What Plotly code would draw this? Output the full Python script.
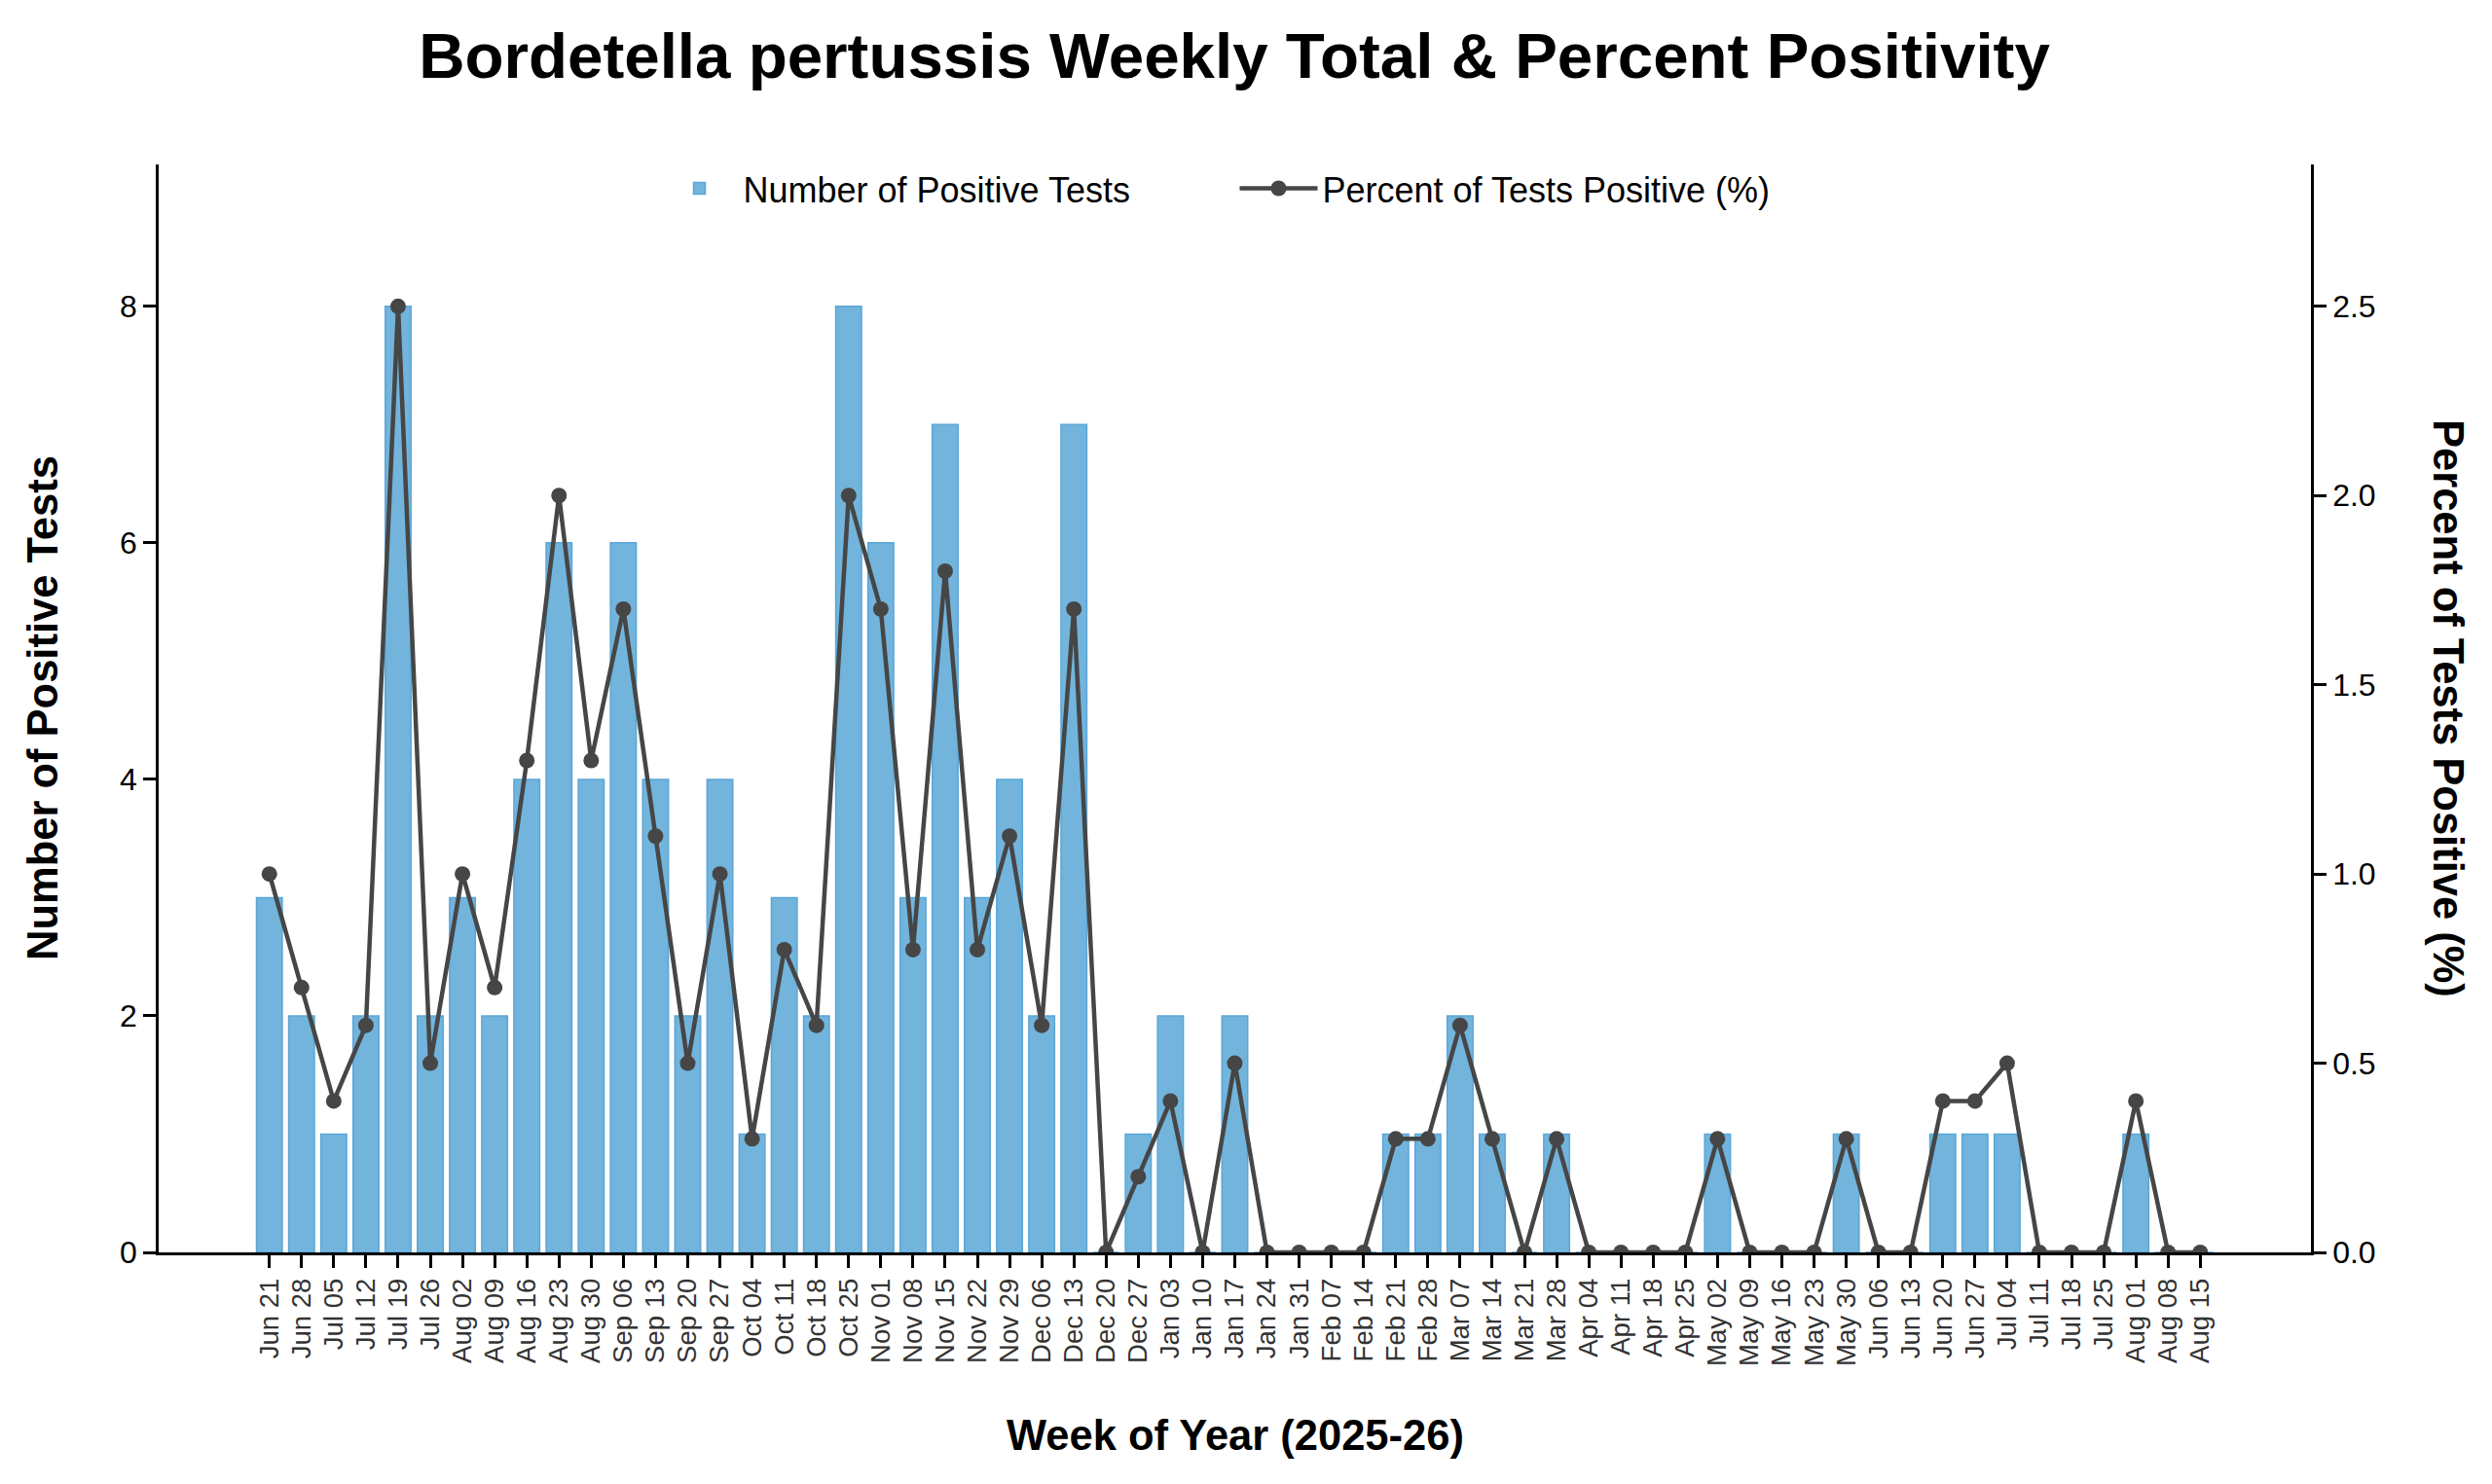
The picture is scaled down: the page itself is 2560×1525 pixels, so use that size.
import plotly.graph_objects as go

# weekly data
weeks = [
    "Jun 21", "Jun 28", "Jul 05", "Jul 12", "Jul 19", "Jul 26", "Aug 02", "Aug 09",
    "Aug 16", "Aug 23", "Aug 30", "Sep 06", "Sep 13", "Sep 20", "Sep 27", "Oct 04",
    "Oct 11", "Oct 18", "Oct 25", "Nov 01", "Nov 08", "Nov 15", "Nov 22", "Nov 29",
    "Dec 06", "Dec 13", "Dec 20", "Dec 27", "Jan 03", "Jan 10", "Jan 17", "Jan 24",
    "Jan 31", "Feb 07", "Feb 14", "Feb 21", "Feb 28", "Mar 07", "Mar 14", "Mar 21",
    "Mar 28", "Apr 04", "Apr 11", "Apr 18", "Apr 25", "May 02", "May 09", "May 16",
    "May 23", "May 30", "Jun 06", "Jun 13", "Jun 20", "Jun 27", "Jul 04", "Jul 11",
    "Jul 18", "Jul 25", "Aug 01", "Aug 08", "Aug 15",
]
positives = [
    3, 2, 1, 2, 8, 2, 3, 2, 4, 6, 4, 6, 4, 2, 4, 1,
    3, 2, 8, 6, 3, 7, 3, 4, 2, 7, 0, 1, 2, 0, 2, 0,
    0, 0, 0, 1, 1, 2, 1, 0, 1, 0, 0, 0, 0, 1, 0, 0,
    0, 1, 0, 0, 1, 1, 1, 0, 0, 0, 1, 0, 0,
]
pct_positive = [
    1.0, 0.7, 0.4, 0.6, 2.5, 0.5, 1.0, 0.7, 1.3, 2.0, 1.3, 1.7, 1.1, 0.5, 1.0, 0.3,
    0.8, 0.6, 2.0, 1.7, 0.8, 1.8, 0.8, 1.1, 0.6, 1.7, 0.0, 0.2, 0.4, 0.0, 0.5, 0.0,
    0.0, 0.0, 0.0, 0.3, 0.3, 0.6, 0.3, 0.0, 0.3, 0.0, 0.0, 0.0, 0.0, 0.3, 0.0, 0.0,
    0.0, 0.3, 0.0, 0.0, 0.4, 0.4, 0.5, 0.0, 0.0, 0.0, 0.4, 0.0, 0.0,
]
left_ticks = [0, 2, 4, 6, 8]
right_ticks = [0.0, 0.5, 1.0, 1.5, 2.0, 2.5]

FONT = "Liberation Sans, Arial, sans-serif"
BAR = "#72b4dc"
LINE = "#464646"

# page body adds an 8px offset, so the figure is a bit smaller than the window
W, H = 2552, 1517
ML, MR, MT, MB = 155, 186, 161, 238
PW, PH = W - ML - MR, H - MT - MB

fig = go.Figure()
fig.add_trace(go.Bar(
    x=weeks, y=positives, name="Number of Positive Tests",
    marker=dict(color=BAR, line=dict(width=1.5, color="#5aa6d8")),
))
fig.add_trace(go.Scatter(
    x=weeks, y=pct_positive, name="Percent of Tests Positive (%)", yaxis="y2",
    mode="lines+markers",
    line=dict(color=LINE, width=4.5),
    marker=dict(color=LINE, size=16),
))

axis_common = dict(
    showgrid=False, zeroline=False, showline=True, linecolor="black", linewidth=2.5,
    ticks="outside", ticklen=13, tickwidth=2.5, tickcolor="black",
)

fig.update_layout(
    width=W, height=H,
    paper_bgcolor="white", plot_bgcolor="white",
    font=dict(family=FONT, color="black"),
    margin=dict(l=ML, r=MR, t=MT, b=MB),
    bargap=0.2,
    title=dict(
        text="<b>Bordetella pertussis Weekly Total & Percent Positivity</b>",
        x=(1268 - 8) / W, xanchor="center", y=1 - 49 / H, yanchor="middle",
        font=dict(size=65.5, family=FONT, color="black"),
    ),
    xaxis=dict(
        axis_common, type="category", range=[-3.44, 63.44],
        tickangle=-90, tickfont=dict(size=27.5, color="#333333"),
    ),
    yaxis=dict(
        axis_common, range=[0, 9.2], tickvals=left_ticks,
        tickfont=dict(size=32, color="black"),
    ),
    yaxis2=dict(
        axis_common, overlaying="y", side="right", range=[0, 2.875],
        tickvals=right_ticks, tickformat=".1f",
        tickfont=dict(size=32, color="black"),
    ),
    legend=dict(
        orientation="h", x=0.5, xanchor="center", y=0.978, yanchor="middle",
        font=dict(size=36, family=FONT), bgcolor="rgba(0,0,0,0)",
        itemwidth=80, traceorder="normal",
        entrywidth=500, entrywidthmode="pixels",
    ),
    showlegend=True,
    annotations=[
        dict(text="<b>Number of Positive Tests</b>", xref="paper", yref="paper",
             x=(44 - 163) / PW, y=0.5, xanchor="center", yanchor="middle",
             textangle=-90, showarrow=False, font=dict(size=43.5, family=FONT)),
        dict(text="<b>Percent of Tests Positive (%)</b>", xref="paper", yref="paper",
             x=(2515 - 163) / PW, y=0.5, xanchor="center", yanchor="middle",
             textangle=90, showarrow=False, font=dict(size=43.5, family=FONT)),
        dict(text="<b>Week of Year (2025-26)</b>", xref="paper", yref="paper",
             x=0.5, y=(1287 - 1475) / PH, xanchor="center", yanchor="middle",
             showarrow=False, font=dict(size=43.5, family=FONT)),
    ],
)

fig.write_html("out.html")
